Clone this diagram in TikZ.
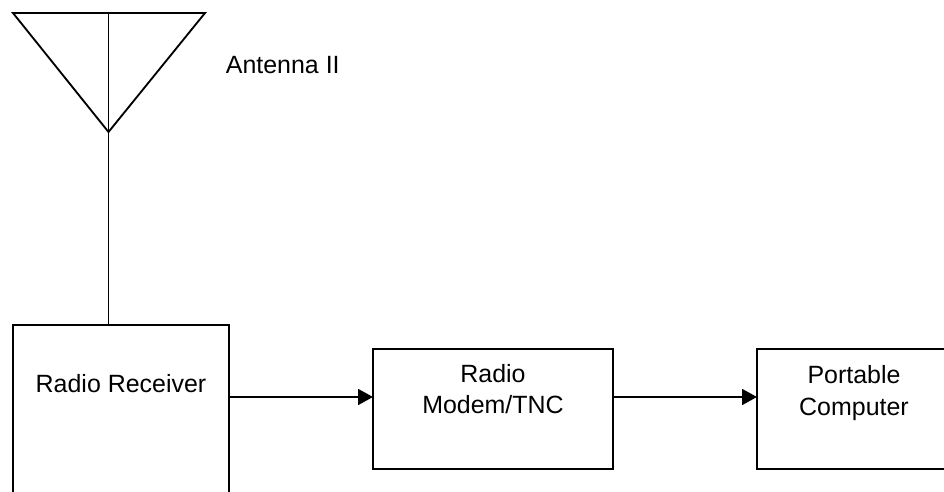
\documentclass[tikz,border=0pt]{standalone}
\usepackage{fontspec}
\setmainfont{Liberation Sans}
\usetikzlibrary{arrows.meta}

\tikzset{
  block/.style={draw,minimum width=#1,minimum height=2.4cm,inner sep=0pt,outer sep=0pt},
  blocktext/.style={align=center,font=\fontsize{14.2}{18}\selectfont,inner sep=0pt},
  feed/.style={-{Triangle[length=0.3cm,width=0.32cm]}}
}

\begin{document}
\begin{tikzpicture}[x=0.02cm,y=-0.02cm,line width=1.05pt]
\clip (0,0) rectangle (944,492);
% antenna
\coordinate (tip) at (108.5,132);
\coordinate (left) at (13,13);
\coordinate (right) at (205,13);
\draw (left) -- (right) -- (tip) -- cycle;
\draw (tip |- left) -- (tip);
\node[blocktext,anchor=west] (antlabel) at (225,65) {Antenna II};
% blocks
\node[block=4.32cm,minimum height=3.7cm,anchor=north west] (receiver) at (13,325) {};
\node[block=4.8cm,anchor=north west] (modem) at (373,349) {};
\node[block=3.88cm,anchor=north west] (computer) at (757,349) {};
% block labels
\node[blocktext] (rxlabel) at (121,383.5) {Radio Receiver};
\node[blocktext] (modemlabel) at (493,389) {Radio\\Modem/TNC};
\node[blocktext] (pclabel) at (854,393) {Portable\\Computer};
% connections
\coordinate (rxout) at (229,397);
\draw (tip) -- (tip |- receiver.north);
\draw[feed] (rxout) -- (rxout -| modem.west);
\draw[feed] (modem.east |- rxout) -- (computer.west |- rxout);
\end{tikzpicture}
\end{document}
